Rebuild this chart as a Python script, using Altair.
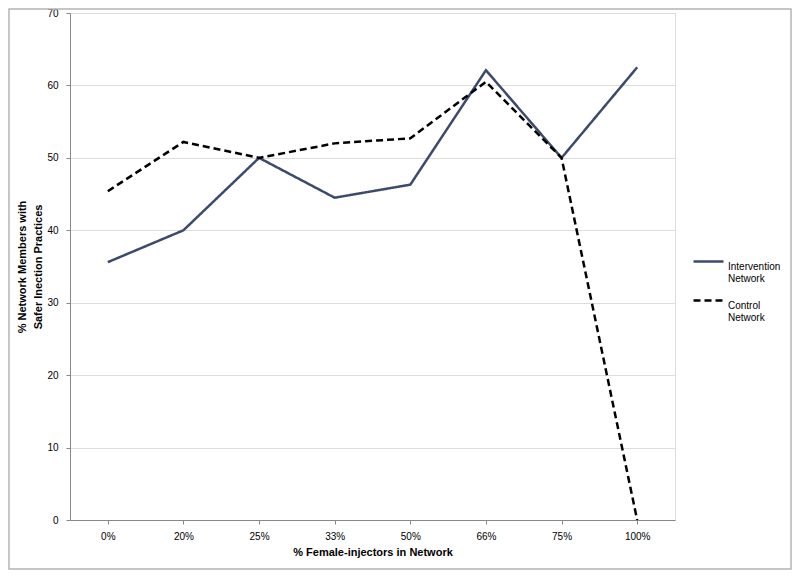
import altair as alt
import pandas as pd

categories = ["0%", "20%", "25%", "33%", "50%", "66%", "75%", "100%"]
intervention = [35.6, 40.0, 50.0, 44.5, 46.3, 62.1, 50.0, 62.5]
control = [45.4, 52.2, 50.0, 52.0, 52.7, 60.5, 50.0, 0.0]
series_names = ["Intervention Network", "Control Network"]

rows = []
for c, v in zip(categories, intervention):
    rows.append({"cat": c, "val": v, "series": series_names[0]})
for c, v in zip(categories, control):
    rows.append({"cat": c, "val": v, "series": series_names[1]})
df = pd.DataFrame(rows)

FONT = "Lato"
TXT = "#3a3a3a"

lines = alt.Chart(df).mark_line(strokeWidth=2.5, clip=False).encode(
    x=alt.X("cat:N", sort=categories,
            scale=alt.Scale(paddingInner=0, paddingOuter=0.5),
            axis=alt.Axis(title="% Female-injectors in Network", labelAngle=0,
                          bandPosition=0, tickSize=4, labelPadding=7,
                          titlePadding=5, grid=False)),
    y=alt.Y("val:Q", scale=alt.Scale(domain=[0, 70], nice=False),
            axis=alt.Axis(title=["% Network Members  with", "Safer Inection Practices"],
                          values=list(range(0, 71, 10)), tickSize=4, labelPadding=8,
                          titlePadding=3, titleLineHeight=16, grid=True)),
    color=alt.Color("series:N", sort=series_names,
                    scale=alt.Scale(domain=series_names, range=["#3b4a6d", "#000000"]),
                    legend=alt.Legend(title=None, symbolType="stroke", symbolStrokeWidth=2.5,
                                      symbolSize=900, orient="none", legendX=622, legendY=232,
                                      labelExpr="split(datum.label, ' ')",
                                      labelBaseline="top", rowPadding=-8,
                                      labelOffset=3)),
    strokeDash=alt.StrokeDash("series:N", sort=series_names,
                              scale=alt.Scale(domain=series_names, range=[[1, 0], [7, 4]]),
                              legend=alt.Legend(title=None)),
)

frame = alt.Chart(pd.DataFrame({"a": [0]})).mark_rect(
    fillOpacity=0, stroke="#b4b4b4", strokeWidth=1.5, clip=False
).encode(
    x=alt.value(-61), x2=alt.value(721), y=alt.value(-4), y2=alt.value(556)
)

chart = alt.layer(frame, lines).properties(
    width=605, height=507,
    padding={"left": 62, "top": 5, "right": 117, "bottom": 50},
    autosize=alt.AutoSizeParams(type="none"),
).configure_view(stroke=None).configure_axis(
    labelFont=FONT, labelFontSize=10.5, labelColor=TXT,
    titleFont=FONT, titleFontSize=10.5, titleColor=TXT, titleFontWeight=600,
    titleLineHeight=16,
    domainColor="#8c8c8c", tickColor="#8c8c8c", gridColor="#7c7c7c",
    gridOpacity=1, gridWidth=1, domainWidth=1,
).configure_legend(
    labelFont=FONT, labelFontSize=10.5, labelColor=TXT,
).configure(background="white")

chart.save("out.html", embed_options={"renderer": "svg", "actions": False})
